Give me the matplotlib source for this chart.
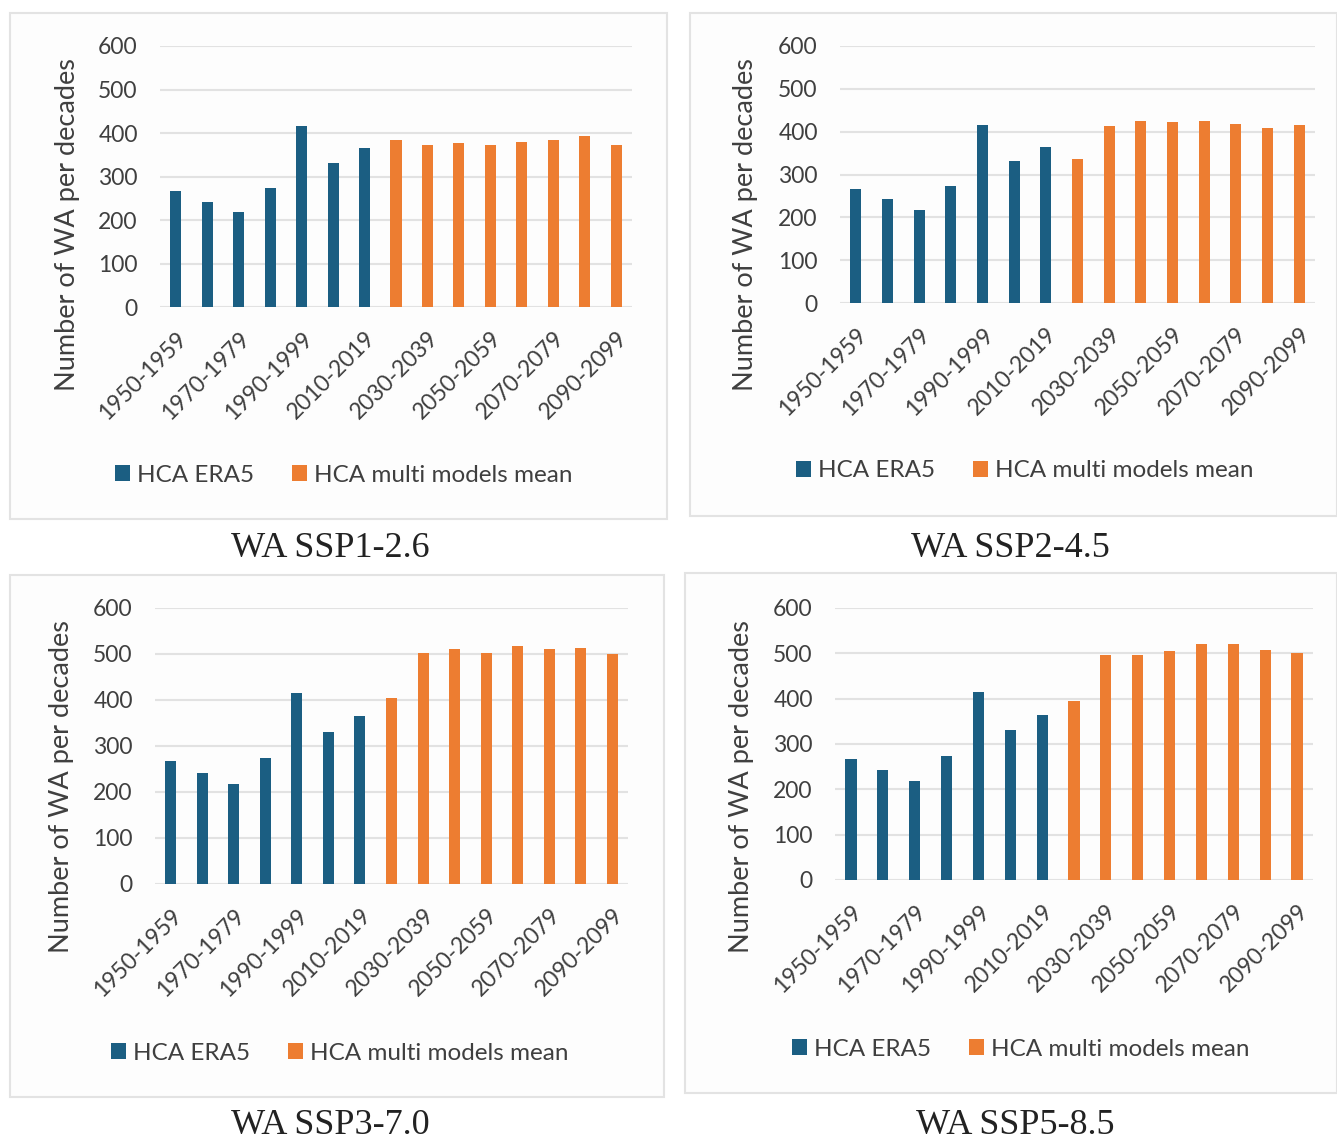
import numpy as np
import matplotlib
matplotlib.use("Agg")
import matplotlib.pyplot as plt
from matplotlib.patches import Rectangle, Patch

# data
decades = ["1950-1959", "1960-1969", "1970-1979", "1980-1989", "1990-1999",
           "2000-2009", "2010-2019", "2020-2029", "2030-2039", "2040-2049",
           "2050-2059", "2060-2069", "2070-2079", "2080-2089", "2090-2099"]
era5 = [267, 242, 218, 274, 415, 331, 365]
ssp126 = [385, 372, 378, 373, 379, 384, 392, 373]
ssp245 = [337, 414, 424, 423, 426, 417, 409, 416]
ssp370 = [404, 502, 510, 503, 518, 510, 512, 500]
ssp585 = [394, 496, 496, 505, 520, 520, 508, 500]
titles = ["WA SSP1-2.6", "WA SSP2-4.5", "WA SSP3-7.0", "WA SSP5-8.5"]
scenarios = [ssp126, ssp245, ssp370, ssp585]

BLUE = "#1b5e82"
ORANGE = "#ed7d31"
TXT = "#3f3f3f"

plt.rcParams["font.family"] = ["Lato", "DejaVu Sans"]

W, H = 1337, 1141
fig = plt.figure(figsize=(W / 100, H / 100), dpi=100)
fig.patch.set_facecolor("white")


def px(x0, y0, x1, y1):
    # pixel box (top-left origin) -> figure fraction rect
    return [x0 / W, 1 - y1 / H, (x1 - x0) / W, (y1 - y0) / H]


# per panel layout: box, plot area, ylabel pos, legend centre, title centre
layout = [
    dict(box=(10, 13, 667, 519), ax=(160, 46, 632, 307), yl=(68, 225), leg=(344, 475), tt=(330, 549)),
    dict(box=(690, 13, 1337, 516), ax=(840, 46, 1315, 303), yl=(745, 225), leg=(1025, 471), tt=(1010, 549)),
    dict(box=(10, 575, 664, 1097), ax=(155, 608, 628, 884), yl=(62, 787), leg=(340, 1053), tt=(330, 1125)),
    dict(box=(685, 573, 1337, 1093), ax=(835, 608, 1313, 880), yl=(742, 787), leg=(1021, 1049), tt=(1015, 1125)),
]

x = np.arange(len(decades))
n_hist = len(era5)

for lay, proj, title in zip(layout, scenarios, titles):
    bx0, by0, bx1, by1 = lay["box"]
    fig.patches.append(Rectangle((bx0 / W, 1 - by1 / H), (bx1 - bx0) / W, (by1 - by0) / H,
                                 transform=fig.transFigure, facecolor="#fdfdfd",
                                 edgecolor="#e3e3e3", linewidth=1.5, zorder=-5))

    ax = fig.add_axes(px(*lay["ax"]))
    ax.set_facecolor("none")
    ax.bar(x[:n_hist], era5, width=0.35, color=BLUE, zorder=3)
    ax.bar(x[n_hist:], proj, width=0.35, color=ORANGE, zorder=3)
    ax.set_xlim(-0.5, len(decades) - 0.5)
    ax.set_ylim(0, 600)
    ax.set_yticks(range(0, 601, 100))
    ax.grid(axis="y", color="#e2e2e2", linewidth=1.5, zorder=0)
    ax.set_axisbelow(True)
    for s in ax.spines.values():
        s.set_visible(False)
    ax.set_xticks(x[::2])
    ax.set_xticklabels(decades[::2], rotation=45, ha="right", rotation_mode="anchor")
    ax.tick_params(axis="both", length=0, labelsize=16.5, colors=TXT)
    ax.tick_params(axis="y", pad=16)
    ax.tick_params(axis="x", pad=15)

    fig.text(lay["yl"][0] / W, 1 - lay["yl"][1] / H, "Number of WA per decades",
             rotation=90, ha="center", va="center", fontsize=19.5, color=TXT)

    handles = [Patch(facecolor=BLUE, label="HCA ERA5"),
               Patch(facecolor=ORANGE, label="HCA multi models mean")]
    fig.legend(handles=handles, loc="center",
               bbox_to_anchor=(lay["leg"][0] / W, 1 - lay["leg"][1] / H),
               ncol=2, frameon=False, fontsize=17.5, handlelength=0.6, handleheight=0.6,
               handletextpad=0.3, columnspacing=1.55, labelcolor=TXT)

    fig.text(lay["tt"][0] / W, 1 - lay["tt"][1] / H, title, ha="center", va="center",
             fontsize=26, family="Liberation Serif", color="#222222")

fig.savefig("out.png", dpi=100)
